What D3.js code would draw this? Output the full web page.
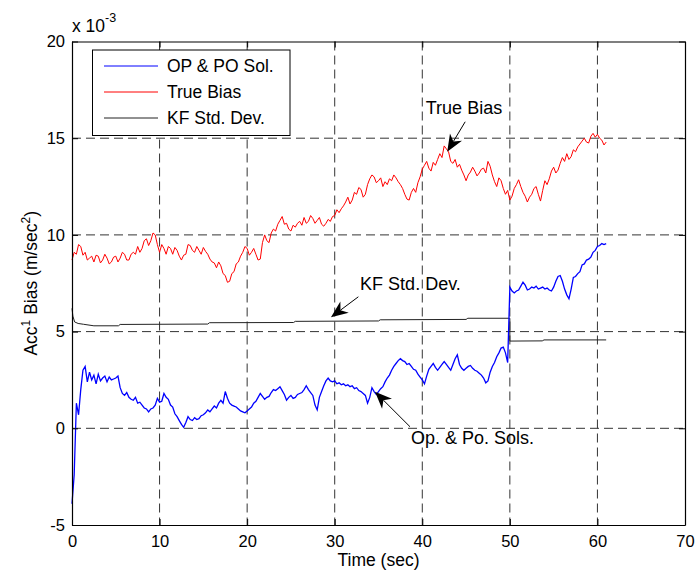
<!DOCTYPE html>
<html>
<head>
<meta charset="utf-8">
<script src="https://cdn.jsdelivr.net/npm/d3@7/dist/d3.min.js"></script>
<style>
  body { margin: 0; background: #fff; }
  text { font-family: "Liberation Sans", Arial, Helvetica, sans-serif; fill: #000; }
</style>
</head>
<body>
<div id="vis"></div>
<script>
var w = 696,
    h = 576,
    m = {l: 72, r: 685, t: 41.5, b: 525};

// axis ticks (values are in units of 1e-3)
const xTicks = [0, 10, 20, 30, 40, 50, 60, 70];
const yTicks = [-5, 0, 5, 10, 15, 20];
const yTickLabels = ["-5", "0", "5", "10", "15", "20"];

// sample times for the two noisy series, every 0.25 s
const time = d3.range(0, 61.01, 0.25);

// true bias (one row = 5 s)
const trueBias = [
  8.7, 9.1, 9.0, 9.5, 9.4, 8.95, 9.1, 8.7, 8.8, 8.9, 8.6, 8.95, 8.9, 8.55, 8.7, 9.0, 8.8, 8.5, 8.6, 8.85,
  8.9, 8.6, 8.8, 9.1, 9.0, 8.7, 8.7, 9.0, 9.1, 9.0, 9.4, 9.1, 9.3, 9.7, 9.8, 9.45, 9.7, 10.1, 10.0, 9.5,
  9.1, 9.5, 9.3, 9.0, 9.4, 9.3, 9.0, 9.35, 9.2, 8.9, 8.7, 8.95, 9.0, 9.5, 9.45, 9.2, 9.1, 9.4, 9.2, 9.0,
  9.35, 9.15, 9.0, 8.75, 8.6, 8.55, 8.3, 8.6, 8.4, 8.0, 7.9, 7.55, 7.6, 8.0, 8.1, 8.5, 8.6, 8.9, 9.1, 9.4,
  9.3, 8.95, 9.1, 9.3, 9.0, 8.7, 8.75, 9.6, 10.0, 9.7, 9.6, 10.1, 10.3, 10.2, 10.55, 10.75, 10.95, 10.55, 10.6, 10.3,
  10.2, 10.5, 10.4, 10.6, 10.7, 10.5, 10.9, 10.6, 10.7, 11.0, 10.85, 10.6, 10.75, 10.9, 10.55, 10.45, 10.6, 10.8, 10.7, 10.95,
  11.0, 11.3, 11.15, 11.35, 11.5, 11.7, 11.95, 11.6, 11.8, 12.2, 12.1, 12.45, 12.35, 11.95, 12.1, 12.6, 12.9, 13.1, 13.0, 12.7,
  12.8, 12.95, 12.5, 12.75, 12.6, 12.9, 12.8, 13.1, 12.95, 12.75, 12.6, 12.4, 12.1, 11.85, 11.8, 12.2, 12.4, 12.2, 12.7, 13.0,
  13.4, 13.6, 13.8, 13.45, 13.3, 13.75, 13.6, 13.9, 14.2, 14.0, 14.6, 14.45, 14.3, 13.8, 13.7, 13.9, 13.5, 13.65, 13.35, 13.1,
  12.8, 13.1, 13.25, 13.5, 13.3, 13.05, 13.2, 13.4, 13.45, 13.2, 13.8, 13.55, 13.1, 12.75, 12.5, 12.95, 12.8, 12.4, 12.1, 12.3,
  11.8, 12.0, 12.4, 12.6, 12.85, 12.5, 12.2, 12.0, 11.7, 11.95, 12.1, 12.4, 12.5, 12.1, 11.75, 12.3, 12.8, 12.6, 12.9, 13.3,
  13.5, 13.2, 13.35, 13.7, 14.0, 13.8, 14.2, 13.9, 14.05, 14.4, 14.3, 14.55, 14.7, 14.85, 15.0, 14.8, 14.75, 15.1, 15.25, 15.05,
  15.2, 15.0, 14.9, 14.65, 14.8
];

// OP & PO solution (one row = 5 s)
const solBias = [
  -3.9, -2.4, 1.3, 0.7, 2.0, 3.0, 3.2, 2.4, 2.9, 2.5, 2.75, 2.3, 2.8, 2.45, 2.6, 2.7, 2.4, 2.65, 2.5, 2.55,
  2.6, 2.7, 2.1, 1.8, 1.7, 1.85, 1.6, 1.5, 1.45, 1.6, 1.3, 1.35, 1.2, 1.05, 1.0, 0.85, 1.0, 1.05, 1.2, 1.55,
  1.35, 1.4, 1.8, 1.6, 1.5, 1.2, 1.1, 0.75, 0.6, 0.4, 0.2, 0.05, 0.3, 0.6, 0.45, 0.4, 0.55, 0.45, 0.5, 0.65,
  0.7, 0.8, 0.95, 0.85, 1.0, 1.15, 1.05, 1.3, 1.45, 1.3, 1.9, 1.55, 1.3, 1.2, 1.15, 1.1, 1.0, 0.9, 0.85, 0.8,
  0.9, 1.0, 1.1, 1.3, 1.4, 1.6, 1.8, 1.65, 1.5, 1.6, 1.65, 1.85, 2.0, 1.95, 2.05, 2.15, 1.95, 1.75, 1.45, 1.6,
  1.7, 1.55, 1.6, 1.75, 1.8, 1.85, 2.0, 2.2, 2.0, 1.85, 1.7, 1.2, 0.95, 1.6, 1.9, 2.2, 2.45, 2.6, 2.45, 2.4,
  2.45, 2.3, 2.35, 2.25, 2.3, 2.2, 2.25, 2.15, 2.2, 2.05, 2.1, 1.95, 1.9, 1.8, 1.7, 1.3, 1.6, 2.1, 1.9, 1.75,
  1.9, 2.05, 2.15, 2.4, 2.6, 2.75, 3.0, 3.2, 3.35, 3.5, 3.6, 3.5, 3.45, 3.3, 3.35, 3.2, 3.05, 3.0, 2.8, 2.65,
  2.5, 2.3, 2.7, 3.05, 3.2, 3.35, 3.15, 3.0, 3.15, 3.3, 3.45, 3.3, 3.15, 3.0, 3.3, 3.6, 3.8, 3.3, 3.1, 3.0,
  3.1, 3.2, 3.25, 3.1, 3.0, 2.95, 2.85, 2.75, 2.6, 2.35, 2.45, 2.9, 3.2, 3.4, 3.7, 3.9, 4.15, 4.2, 3.9, 3.4,
  7.3, 7.1, 7.0, 7.1, 7.15, 7.35, 7.55, 7.4, 7.15, 7.2, 7.3, 7.25, 7.35, 7.2, 7.25, 7.3, 7.2, 7.25, 7.15, 7.1,
  7.3, 7.6, 7.85, 7.9, 7.6, 7.2, 6.9, 6.7, 7.2, 7.8, 7.85, 8.0, 8.1, 8.45, 8.5, 8.7, 8.75, 8.85, 9.1, 9.2,
  9.4, 9.45, 9.55, 9.5, 9.55
];

// KF standard deviation
const kfTime = [0, 0.1, 0.3, 0.7, 1.3, 2.5, 5.3, 5.5, 15.5, 15.7, 25.3, 25.5, 35.0, 35.2, 45.0, 45.2, 50.0, 50.0, 53.7, 53.9, 61.0];
const kfStd  = [6.2, 5.8, 5.5, 5.42, 5.38, 5.3, 5.3, 5.37, 5.39, 5.46, 5.47, 5.53, 5.55, 5.61, 5.63, 5.69, 5.69, 4.51, 4.52, 4.57, 4.57];

const legendLabels = ["OP & PO Sol.", "True Bias", "KF Std. Dev."];
const legendColors = ["#0000ff", "#ff0000", "#222"];

// text arrows: label anchor, arrow tail, arrow tip (data units)
const notes = [
  {label: "True Bias", at: [40.4, 16.25], from: [44.9, 15.85], to: [42.85, 14.3]},
  {label: "KF Std. Dev.", at: [32.9, 7.15], from: [32.7, 6.8], to: [29.57, 5.74]},
  {label: "Op. & Po. Sols.", at: [38.7, -0.8], from: [38.6, 0.08], to: [34.6, 1.89]}
];

var x = d3.scaleLinear().domain([0, 70]).range([m.l, m.r]),
    y = d3.scaleLinear().domain([-5, 20]).range([m.b, m.t]);

var svg = d3.select("#vis").append("svg")
    .attr("width", w)
    .attr("height", h)
    .style("display", "block");

svg.append("rect").attr("width", w).attr("height", h).attr("fill", "#fff");

// grid
var grid = svg.append("g")
    .attr("stroke", "#333")
    .attr("stroke-width", 1)
    .attr("stroke-dasharray", "9,5");
grid.selectAll(".gx").data(xTicks.slice(1, -1)).enter().append("line")
    .attr("x1", d => x(d)).attr("x2", d => x(d))
    .attr("y1", m.t).attr("y2", m.b);
grid.selectAll(".gy").data(yTicks.slice(1, -1)).enter().append("line")
    .attr("x1", m.l).attr("x2", m.r)
    .attr("y1", d => y(d)).attr("y2", d => y(d));

// series
var line = d3.line().x(d => x(d[0])).y(d => y(d[1]));

svg.append("path")
    .datum(d3.zip(kfTime, kfStd))
    .attr("fill", "none").attr("stroke", "#222").attr("stroke-width", 1)
    .attr("d", line);

svg.append("path")
    .datum(d3.zip(time, trueBias))
    .attr("fill", "none").attr("stroke", "#ff0000").attr("stroke-width", 1)
    .attr("d", line);

svg.append("path")
    .datum(d3.zip(time, solBias))
    .attr("fill", "none").attr("stroke", "#0000ff").attr("stroke-width", 1.3)
    .attr("d", line);

// axes, ticks pointing inward
function styleAxis(g) {
  g.select(".domain").attr("stroke", "#000").attr("stroke-width", 1.2);
  g.selectAll(".tick line").attr("stroke", "#000");
  g.selectAll(".tick text").style("font-size", "16.5px").attr("fill", "#000");
}

svg.append("g")
    .attr("transform", "translate(0," + m.b + ")")
    .call(d3.axisBottom(x).tickValues(xTicks).tickSize(-6).tickSizeOuter(0).tickPadding(10))
    .call(styleAxis);

svg.append("g")
    .attr("transform", "translate(" + m.l + ",0)")
    .call(d3.axisLeft(y).tickValues(yTicks).tickFormat((d, i) => yTickLabels[i])
        .tickSize(-6).tickSizeOuter(0).tickPadding(7))
    .call(styleAxis);

svg.append("g")
    .attr("transform", "translate(0," + m.t + ")")
    .call(d3.axisTop(x).tickValues(xTicks).tickSize(-6).tickSizeOuter(0).tickFormat(""))
    .call(styleAxis);

svg.append("g")
    .attr("transform", "translate(" + m.r + ",0)")
    .call(d3.axisRight(y).tickValues(yTicks).tickSize(-6).tickSizeOuter(0).tickFormat(""))
    .call(styleAxis);

// exponent
var ex = svg.append("text")
    .attr("x", m.l)
    .attr("y", 31.5)
    .style("font-size", "17.5px");
ex.append("tspan").text("x 10");
ex.append("tspan").attr("dy", -10).style("font-size", "12.5px").text("-3");

// axis labels
svg.append("text")
    .attr("x", (m.l + m.r) / 2)
    .attr("y", 566)
    .attr("text-anchor", "middle")
    .style("font-size", "17.5px")
    .text("Time (sec)");

var yl = svg.append("text")
    .attr("transform", "translate(37," + (m.t + m.b) / 2 + ") rotate(-90)")
    .attr("text-anchor", "middle")
    .style("font-size", "17.5px");
yl.append("tspan").text("Acc");
yl.append("tspan").attr("dy", -7).style("font-size", "12px").text("1");
yl.append("tspan").attr("dy", 7).text(" Bias (m/sec");
yl.append("tspan").attr("dy", -7).style("font-size", "12px").text("2");
yl.append("tspan").attr("dy", 7).text(")");

// legend
var lg = svg.append("g");
lg.append("rect")
    .attr("x", 92.5).attr("y", 50)
    .attr("width", 197.5).attr("height", 85.5)
    .attr("fill", "#fff").attr("stroke", "#000").attr("stroke-width", 1);
var row = lg.selectAll(".row").data(legendLabels).enter().append("g")
    .attr("transform", (d, i) => "translate(0," + (66 + i * 26) + ")");
row.append("line")
    .attr("x1", 104).attr("x2", 158)
    .attr("stroke", (d, i) => legendColors[i]).attr("stroke-width", 1);
row.append("text")
    .attr("x", 167).attr("dy", "0.36em")
    .style("font-size", "17.5px")
    .text(d => d);

// annotation arrows
var ann = svg.append("g");
notes.forEach(function(n) {
  var x0 = x(n.from[0]), y0 = y(n.from[1]),
      x1 = x(n.to[0]), y1 = y(n.to[1]),
      dx = x1 - x0, dy = y1 - y0,
      len = Math.sqrt(dx * dx + dy * dy),
      ux = dx / len, uy = dy / len,
      L = 17, W = 7;
  var bx = x1 - ux * L, by = y1 - uy * L,
      nx = x1 - ux * L * 0.7, ny = y1 - uy * L * 0.7;
  ann.append("line")
      .attr("x1", x0).attr("y1", y0).attr("x2", nx).attr("y2", ny)
      .attr("stroke", "#000").attr("stroke-width", 1);
  ann.append("path")
      .attr("d", "M" + [x1, y1] +
          "L" + [bx - uy * W, by + ux * W] +
          "L" + [nx, ny] +
          "L" + [bx + uy * W, by - ux * W] + "Z")
      .attr("fill", "#000");
  ann.append("text")
      .attr("x", x(n.at[0]))
      .attr("y", y(n.at[1]))
      .style("font-size", "18px")
      .text(n.label);
});
</script>
</body>
</html>
